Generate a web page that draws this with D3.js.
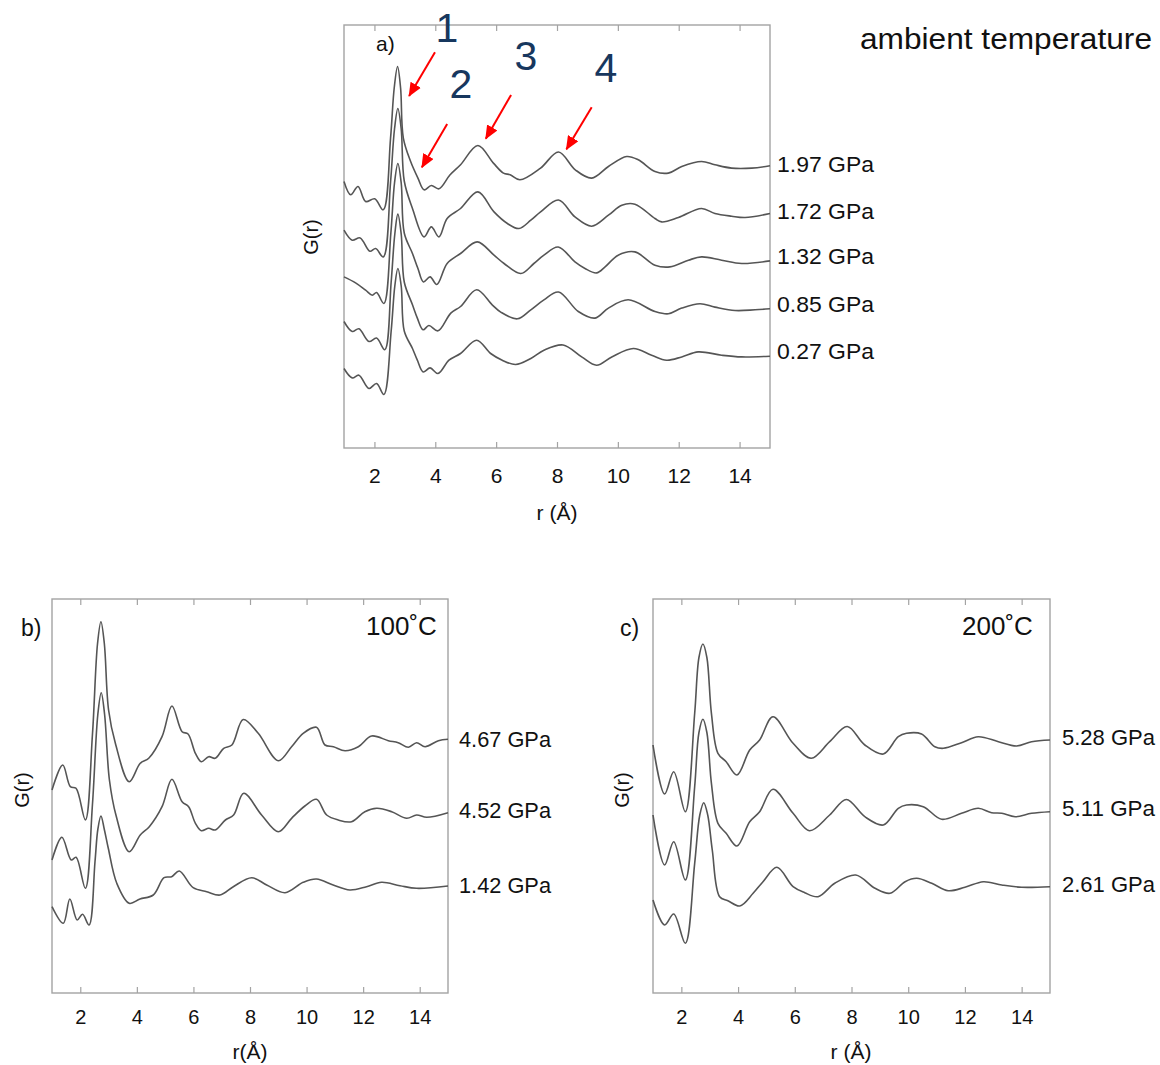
<!DOCTYPE html>
<html>
<head>
<meta charset="utf-8">
<script src="https://cdn.jsdelivr.net/npm/d3@7"></script>
<style>
  body { margin: 0; background: #fff; }
  text { font-family: "Liberation Sans", Arial, Helvetica, sans-serif; }
</style>
</head>
<body>
<svg id="fig" width="1160" height="1065"></svg>
<script>
// ---------- data: pair distribution functions G(r), r in Å, G in arbitrary units ----------
// each trace is stored relative to its own stacking level (the offsets arrays)

const rTicks = [2, 4, 6, 8, 10, 12, 14];

// a) ambient temperature
const pressuresA = ["1.97 GPa", "1.72 GPa", "1.32 GPa", "0.85 GPa", "0.27 GPa"];
const offsetsA = [28.4, 23.7, 19.2, 14.4, 9.7];
const gA_197 = [[1.00,-1.75],[1.22,-3.08],[1.46,-2.25],[1.71,-3.75],[2.01,-3.48],[2.29,-4.58],[2.53,2.59],[2.65,7.6],[2.76,9.75],[2.86,7.6],[2.95,2.59],[3.19,0.25],[3.43,-1.41],[3.63,-2.58],[3.87,-2.15],[4.12,-2.48],[4.48,-1.1],[4.83,-0.08],[5.4,1.85],[5.91,0.09],[6.24,-0.91],[6.46,-1.08],[6.78,-1.58],[7.46,-0.41],[8.05,1.2],[8.60,-0.58],[9.14,-1.41],[9.69,-0.25],[10.29,0.75],[10.67,0.42],[11.22,-0.75],[11.66,-0.91],[12.10,-0.25],[12.75,0.25],[13.19,-0.08],[13.74,-0.41],[14.40,-0.41],[15.00,-0.18]];
const gA_172 = [[1.00,-1.92],[1.27,-2.92],[1.53,-2.69],[1.85,-4.02],[2.04,-3.75],[2.29,-4.59],[2.53,2.9],[2.66,8.2],[2.77,10.25],[2.88,8.2],[2.98,3.0],[3.25,0.25],[3.63,-2.59],[3.87,-1.59],[4.12,-2.59],[4.39,-0.75],[4.83,0.25],[5.40,1.91],[5.93,-0.09],[6.37,-1.25],[6.75,-1.75],[7.14,-0.92],[7.46,-0.09],[8.05,1.1],[8.59,-0.59],[9.14,-1.52],[9.69,-0.42],[10.13,0.58],[10.56,0.68],[11.22,-0.75],[11.44,-1.09],[11.99,-0.65],[12.75,0.25],[13.19,-0.25],[13.74,-0.52],[14.18,-0.65],[15.00,-0.25]];
const gA_132 = [[1.00,-2.09],[1.38,-2.69],[1.71,-3.42],[1.93,-3.92],[2.07,-3.65],[2.31,-4.75],[2.54,2.3],[2.66,7.3],[2.77,9.25],[2.88,7.3],[2.98,2.3],[3.25,0.25],[3.43,-1.25],[3.61,-2.59],[3.83,-2.09],[4.05,-2.85],[4.39,-0.75],[4.83,0.25],[5.38,1.41],[5.93,0.08],[6.26,-0.75],[6.81,-1.75],[7.24,-0.75],[7.57,0.08],[8.04,0.9],[8.59,-0.59],[8.92,-1.25],[9.30,-1.69],[9.58,-1.09],[10.01,0.08],[10.56,0.41],[11.22,-0.92],[11.71,-1.09],[12.32,-0.42],[12.75,-0.09],[13.41,-0.42],[14.07,-0.75],[15.00,-0.49]];
const gA_085 = [[1.00,-1.75],[1.27,-2.75],[1.49,-2.48],[1.82,-3.75],[2.07,-3.41],[2.34,-4.58],[2.55,2.2],[2.67,7.0],[2.77,8.99],[2.88,7.0],[2.98,2.2],[3.25,-0.08],[3.41,-1.41],[3.60,-2.58],[3.79,-2.15],[4.09,-2.68],[4.51,-0.91],[4.83,-0.25],[5.36,1.42],[5.87,-0.08],[6.15,-0.81],[6.70,-1.48],[7.14,-0.58],[7.57,0.42],[8.05,1.2],[8.70,-0.75],[9.25,-1.41],[9.69,-0.41],[10.34,0.42],[11.22,-0.75],[11.66,-0.98],[12.10,-0.41],[12.70,0.02],[13.19,-0.31],[13.85,-0.65],[14.51,-0.58],[15.00,-0.48]];
const gA_027 = [[1.00,-1.75],[1.27,-2.69],[1.49,-2.42],[1.82,-3.75],[2.07,-3.25],[2.31,-4.35],[2.55,2.0],[2.67,6.5],[2.77,8.25],[2.88,6.5],[2.98,2.0],[3.25,0.25],[3.41,-0.92],[3.60,-2.09],[3.83,-1.69],[4.09,-2.25],[4.45,-0.92],[4.83,-0.25],[5.36,1.08],[5.82,-0.25],[6.20,-0.92],[6.64,-1.35],[7.14,-0.75],[7.57,0.08],[8.20,0.6],[8.81,-0.59],[9.30,-1.42],[9.80,-0.59],[10.51,0.25],[11.11,-0.42],[11.60,-0.92],[12.10,-0.59],[12.64,-0.09],[13.41,-0.42],[14.07,-0.59],[15.00,-0.52]];

// b) 100 °C
const pressuresB = ["4.67 GPa", "4.52 GPa", "1.42 GPa"];
const offsetsB = [25.35, 18.25, 10.75];
const gB_467 = [[1.00,-5.05],[1.38,-2.55],[1.65,-4.72],[1.85,-4.88],[2.18,-8.05],[2.43,0.5],[2.61,9.6],[2.73,11.78],[2.85,9.6],[3.00,2.95],[3.24,-0.38],[3.73,-4.22],[4.12,-2.38],[4.42,-1.88],[4.89,0.28],[5.24,3.35],[5.60,0.78],[5.81,0.55],[6.07,-1.38],[6.28,-2.22],[6.54,-1.72],[6.77,-1.88],[7.07,-0.88],[7.36,-0.55],[7.76,2.0],[8.29,0.62],[9.00,-2.12],[9.47,-0.72],[9.88,0.62],[10.35,1.22],[10.65,-0.55],[10.95,-0.72],[11.36,-1.12],[11.83,-0.72],[12.30,0.35],[12.89,-0.12],[13.24,-0.32],[13.60,-0.78],[13.89,-0.32],[14.19,-0.72],[14.66,-0.12],[15.00,0.02]];
const gB_452 = [[1.00,-4.95],[1.35,-2.68],[1.68,-4.95],[1.85,-4.68],[2.18,-7.78],[2.43,0.6],[2.62,9.6],[2.74,11.78],[2.86,9.6],[3.03,3.05],[3.26,-0.45],[3.73,-4.12],[4.12,-2.45],[4.44,-1.62],[4.89,0.38],[5.24,3.12],[5.60,0.88],[5.83,0.38],[6.07,-1.28],[6.28,-2.02],[6.54,-1.78],[6.77,-1.95],[7.13,-0.95],[7.42,-0.45],[7.78,1.72],[8.41,-0.45],[9.00,-2.12],[9.47,-0.78],[9.94,0.45],[10.35,1.12],[10.71,-0.45],[11.12,-0.95],[11.59,-1.12],[12.06,-0.12],[12.48,0.22],[13.01,-0.12],[13.54,-0.78],[13.89,-0.45],[14.25,-0.68],[15.00,-0.22]];
const gB_142 = [[1.00,-2.12],[1.40,-3.78],[1.63,-1.35],[1.89,-3.45],[2.08,-2.88],[2.31,-3.95],[2.52,2.38],[2.62,5.6],[2.73,6.95],[2.85,5.6],[2.99,3.72],[3.29,0.22],[3.73,-1.78],[4.11,-1.35],[4.58,-0.95],[4.96,0.78],[5.23,0.88],[5.50,1.45],[5.99,-0.22],[6.47,-0.62],[6.94,-0.95],[7.41,-0.12],[8.06,0.78],[8.59,0.05],[9.24,-0.72],[9.88,0.32],[10.35,0.65],[10.94,0.05],[11.53,-0.45],[12.12,-0.12],[12.65,0.32],[13.30,-0.02],[13.89,-0.28],[15.00,-0.05]];

// c) 200 °C
const pressuresC = ["5.28 GPa", "5.11 GPa", "2.61 GPa"];
const offsetsC = [25.55, 18.45, 10.9];
const gC_528 = [[1.00,-0.75],[1.41,-5.65],[1.73,-3.42],[2.14,-7.42],[2.47,2.42],[2.62,8.0],[2.76,9.35],[2.90,8.0],[3.06,2.42],[3.29,-1.58],[3.58,-2.42],[3.96,-3.75],[4.41,-1.25],[4.76,-0.25],[5.23,2.08],[5.94,-0.58],[6.58,-2.08],[7.23,-0.42],[7.85,1.1],[8.47,-0.75],[9.12,-1.65],[9.65,0.08],[9.94,0.42],[10.47,0.35],[10.94,-0.92],[11.24,-1.08],[11.88,-0.52],[12.47,0.08],[13.18,-0.42],[13.82,-0.85],[14.35,-0.42],[15.00,-0.25]];
const gC_511 = [[1.00,-0.65],[1.41,-5.65],[1.73,-3.32],[2.14,-7.15],[2.47,2.2],[2.62,7.6],[2.76,8.92],[2.90,7.6],[3.06,2.52],[3.29,-1.48],[3.58,-2.48],[3.96,-3.75],[4.41,-1.32],[4.76,-0.32],[5.23,1.92],[5.94,-0.48],[6.52,-2.22],[7.23,-0.65],[7.82,0.9],[8.47,-0.82],[9.12,-1.65],[9.65,0.02],[9.94,0.35],[10.53,0.18],[11.18,-1.08],[11.88,-0.48],[12.47,0.02],[12.94,-0.42],[13.30,-0.48],[13.77,-0.82],[14.35,-0.48],[15.00,-0.32]];
const gC_261 = [[1.00,-1.6],[1.41,-4.1],[1.73,-3.0],[2.14,-5.93],[2.47,2.07],[2.65,6.9],[2.79,8.13],[2.93,6.9],[3.09,3.4],[3.35,-1.27],[3.64,-1.67],[4.06,-2.2],[4.53,-0.93],[4.88,0.23],[5.37,1.67],[5.94,-0.27],[6.35,-0.87],[6.82,-1.27],[7.41,0.07],[8.15,0.9],[8.83,-0.43],[9.36,-0.93],[9.89,0.23],[10.30,0.57],[10.83,0.07],[11.41,-0.67],[12.00,-0.33],[12.65,0.23],[13.30,-0.1],[14.00,-0.33],[15.00,-0.27]];

// peak annotations in panel a (r, G)
const peakNumbers = ["1", "2", "3", "4"];
const peakNumberAt = [[4.38, 40.6], [4.84, 35.0], [6.98, 37.8], [9.61, 36.6]];
const arrowFrom = [[3.99, 39.57], [4.39, 32.4], [6.49, 35.3], [9.14, 34.07]];
const arrowTo = [[3.14, 35.2], [3.56, 28.07], [5.66, 30.93], [8.31, 29.87]];

// ---------- drawing ----------
const svg = d3.select("#fig");
const LINE = "#555555", FRAME = "#a3a3a3", TEXT = "#111111";

svg.append("defs").append("marker")
  .attr("id", "redhead")
  .attr("viewBox", "0 0 14 12")
  .attr("refX", 13).attr("refY", 6)
  .attr("markerWidth", 14).attr("markerHeight", 12)
  .attr("markerUnits", "userSpaceOnUse")
  .attr("orient", "auto")
  .append("path").attr("d", "M0,0L14,6L0,12Z").attr("fill", "#ff0000");

function drawPanel(p) {
  const g = svg.append("g");
  const x = d3.scaleLinear().domain([1, 15]).range([p.left, p.right]);
  const y = d3.scaleLinear().domain([0, (p.bottom - p.top) / 10]).range([p.bottom, p.top]);

  // frame
  g.append("rect")
    .attr("x", p.left).attr("y", p.top)
    .attr("width", p.right - p.left).attr("height", p.bottom - p.top)
    .attr("fill", "none").attr("stroke", FRAME).attr("stroke-width", 1.4);

  // bottom axis with inward ticks
  const ax = g.append("g").attr("transform", `translate(0,${p.bottom})`)
    .call(d3.axisBottom(x).tickValues(rTicks).tickSize(-6).tickPadding(p.tickPad).tickFormat(d3.format("d")));
  ax.select(".domain").remove();
  ax.selectAll("line").attr("stroke", FRAME).attr("stroke-width", 1.2);
  ax.selectAll("text").attr("font-size", p.tickFont).attr("fill", TEXT)
    .style("font-family", '"Liberation Sans", Arial, sans-serif');

  // mirrored ticks on top edge
  const at = g.append("g").attr("transform", `translate(0,${p.top})`)
    .call(d3.axisTop(x).tickValues(rTicks).tickSize(-6).tickFormat(""));
  at.select(".domain").remove();
  at.selectAll("line").attr("stroke", FRAME).attr("stroke-width", 1.2);

  // traces with pressure labels at the right edge
  const line = d3.line()
    .x(d => x(d[0]))
    .curve(d3.curveCatmullRom.alpha(0.5));
  p.series.forEach((s, i) => {
    g.append("path")
      .datum(s)
      .attr("d", line.y(d => y(d[1] + p.offsets[i])))
      .attr("fill", "none").attr("stroke", LINE).attr("stroke-width", 1.6)
      .attr("stroke-linejoin", "round");
    g.append("text")
      .attr("x", p.right + p.labelGap).attr("y", y(p.offsets[i]))
      .attr("dy", "0.36em")
      .attr("font-size", 22).attr("fill", TEXT)
      .attr("textLength", p.labelWidth).attr("lengthAdjust", "spacingAndGlyphs")
      .text(p.labels[i]);
  });

  // axis titles
  g.append("text")
    .attr("x", p.xTitle[0]).attr("y", p.xTitle[1])
    .attr("text-anchor", "middle").attr("font-size", 21).attr("fill", TEXT)
    .text(p.xTitleText);
  g.append("text")
    .attr("transform", `translate(${p.yTitle[0]},${p.yTitle[1]}) rotate(-90)`)
    .attr("text-anchor", "middle").attr("dy", "0.35em")
    .attr("font-size", 20).attr("fill", TEXT)
    .text("G(r)");

  // panel tag
  g.append("text")
    .attr("x", p.tag[0]).attr("y", p.tag[1])
    .attr("font-size", p.tagFont).attr("fill", TEXT)
    .text(p.tagText);

  return { x, y, g };
}

const pa = drawPanel({
  left: 344, right: 770, top: 25, bottom: 448,
  series: [gA_197, gA_172, gA_132, gA_085, gA_027],
  offsets: offsetsA, labels: pressuresA, labelGap: 7, labelWidth: 97,
  tickPad: 20, tickFont: 21,
  xTitle: [557, 520], xTitleText: "r (Å)",
  yTitle: [311, 237],
  tag: [376, 51], tagText: "a)", tagFont: 21
});

drawPanel({
  left: 52, right: 448, top: 599, bottom: 993,
  series: [gB_467, gB_452, gB_142],
  offsets: offsetsB, labels: pressuresB, labelGap: 11, labelWidth: 92,
  tickPad: 17, tickFont: 20,
  xTitle: [250, 1059], xTitleText: "r(Å)",
  yTitle: [22, 790],
  tag: [21, 636], tagText: "b)", tagFont: 23
});

drawPanel({
  left: 653, right: 1050, top: 599, bottom: 993,
  series: [gC_528, gC_511, gC_261],
  offsets: offsetsC, labels: pressuresC, labelGap: 12, labelWidth: 93,
  tickPad: 17, tickFont: 20,
  xTitle: [851, 1059], xTitleText: "r (Å)",
  yTitle: [622, 790],
  tag: [620, 636], tagText: "c)", tagFont: 23
});

// temperature captions
svg.append("text").attr("x", 860).attr("y", 49)
  .attr("font-size", 29).attr("fill", TEXT)
  .attr("textLength", 292).attr("lengthAdjust", "spacingAndGlyphs")
  .text("ambient temperature");
svg.append("text").attr("x", 366).attr("y", 635)
  .attr("font-size", 26).attr("fill", TEXT).text("100˚C");
svg.append("text").attr("x", 962).attr("y", 635)
  .attr("font-size", 26).attr("fill", TEXT).text("200˚C");

// numbered peak arrows in panel a
peakNumbers.forEach((n, i) => {
  pa.g.append("line")
    .attr("x1", pa.x(arrowFrom[i][0])).attr("y1", pa.y(arrowFrom[i][1]))
    .attr("x2", pa.x(arrowTo[i][0])).attr("y2", pa.y(arrowTo[i][1]))
    .attr("stroke", "#ff0000").attr("stroke-width", 2)
    .attr("marker-end", "url(#redhead)");
  pa.g.append("text")
    .attr("x", pa.x(peakNumberAt[i][0])).attr("y", pa.y(peakNumberAt[i][1]))
    .attr("text-anchor", "middle").attr("font-size", 41)
    .attr("fill", "#17375e")
    .text(n);
});
</script>
</body>
</html>
